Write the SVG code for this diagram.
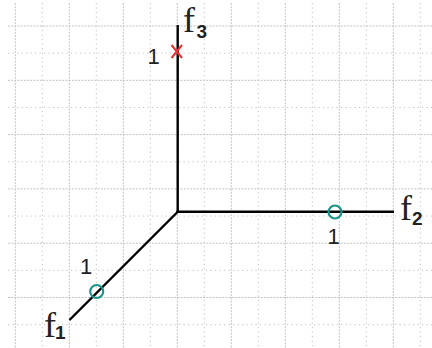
<svg xmlns="http://www.w3.org/2000/svg" width="432" height="348" viewBox="0 0 432 348">
<style>
.minor{stroke:#c4c4c4;stroke-width:1;stroke-dasharray:1.2,3.3;fill:none}
.major{stroke:#c4c4c4;stroke-width:1;stroke-dasharray:2,1.2;fill:none}
.axis{stroke:#000;stroke-width:2.4;fill:none;stroke-linecap:butt}
.pt{stroke:#1a958c;stroke-width:2.2;fill:none}
.cross{stroke:#f03030;stroke-width:2;fill:none}
.f{font-family:'Liberation Serif',serif;font-size:36px;fill:#222}
.sub{font-family:'Liberation Sans',Arial,sans-serif;font-size:19px;font-weight:700;fill:#222}
.num{font-family:'Liberation Sans',Arial,sans-serif;font-size:22px;font-weight:400;fill:#222}
</style>
<rect width="432" height="348" fill="#fff"/>
<g id="grid">
<path class="major" d="M15.3 3V348M69.3 3V348M123.3 3V348M177.3 3V348M231.3 3V348M285.3 3V348M339.3 3V348M393.3 3V348"/>
<path class="minor" d="M42.3 3V348M96.3 3V348M150.3 3V348M204.3 3V348M258.3 3V348M312.3 3V348M366.3 3V348M420.3 3V348"/>
<path class="major" d="M8 26H432M8 80.3H432M8 134.6H432M8 188.9H432M8 243.2H432M8 297.5H432"/>
<path class="minor" d="M8 53.15H432M8 107.45H432M8 161.75H432M8 216.05H432M8 270.35H432M8 324.65H432"/>
</g>
<g id="connectors">
<line class="axis" x1="177.7" y1="212" x2="177.7" y2="25"/>
<line class="axis" x1="176.5" y1="211.7" x2="394" y2="211.7"/>
<line class="axis" x1="178.5" y1="211" x2="69.5" y2="320"/>
</g>
<g id="f3-axis">
<text class="f" x="183" y="32">f</text>
<text class="sub" x="196.5" y="37.5">3</text>
</g>
<g id="f2-axis">
<text class="f" x="400" y="220">f</text>
<text class="sub" x="412" y="225">2</text>
</g>
<g id="f1-axis">
<text class="f" x="44" y="336.5">f</text>
<text class="sub" x="55" y="338.5">1</text>
</g>
<g id="point-f3">
<path class="cross" d="M171.5 45L182 58M182 45L171.5 58"/>
<text class="num" x="147.5" y="63.5">1</text>
</g>
<g id="point-f2">
<circle class="pt" cx="335" cy="212" r="6.5"/>
<text class="num" x="327.5" y="243.5">1</text>
</g>
<g id="point-f1">
<circle class="pt" cx="96.7" cy="291.5" r="6.5"/>
<text class="num" x="80" y="273.5">1</text>
</g>
</svg>
